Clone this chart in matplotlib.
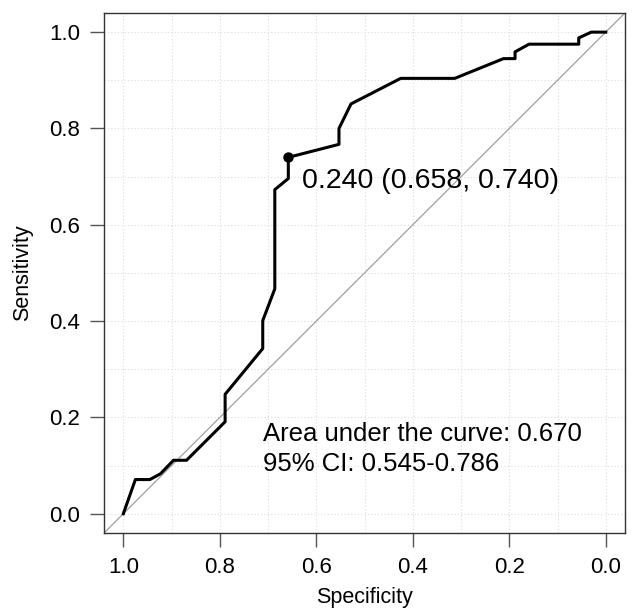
import numpy as np
import matplotlib
matplotlib.use('Agg')
import matplotlib.pyplot as plt

plt.rcParams['font.family'] = ['Liberation Sans', 'DejaVu Sans']

# ROC curve
spec = [1.0, 0.975, 0.945, 0.923, 0.896, 0.869, 0.789, 0.789, 0.711, 0.711,
        0.686, 0.686, 0.658, 0.658, 0.553, 0.553, 0.528, 0.425, 0.313, 0.212,
        0.188, 0.188, 0.159, 0.056, 0.056, 0.030, 0.0]
sens = [0.0, 0.071, 0.071, 0.083, 0.111, 0.111, 0.191, 0.248, 0.343, 0.401,
        0.467, 0.673, 0.696, 0.740, 0.767, 0.800, 0.851, 0.904, 0.904, 0.945,
        0.945, 0.959, 0.975, 0.975, 0.988, 1.0, 1.0]

thr_spec = 0.658
thr_sens = 0.740
thr_label = "0.240 (0.658, 0.740)"
auc_text = "Area under the curve: 0.670"
ci_text = "95% CI: 0.545-0.786"

ticks = [1.0, 0.8, 0.6, 0.4, 0.2, 0.0]
tick_labels = ["1.0", "0.8", "0.6", "0.4", "0.2", "0.0"]

fig = plt.figure(figsize=(6.32, 6.13), dpi=100)
ax = fig.add_axes([0.1646, 0.1305, 0.8244, 0.8485])

ax.set_xlim(1.04, -0.04)
ax.set_ylim(-0.04, 1.04)

# dotted grid every 0.1
for g in np.arange(0, 1.01, 0.1):
    ax.axvline(g, color='#dcdcdc', lw=0.8, ls=(0, (1, 2)), zorder=0)
    ax.axhline(g, color='#dcdcdc', lw=0.8, ls=(0, (1, 2)), zorder=0)

# identity line
ax.plot([1.04, -0.04], [-0.04, 1.04], color='#a0a0a0', lw=0.9, zorder=1)

ax.plot(spec, sens, color='black', lw=2.2, zorder=3)
ax.plot([thr_spec], [thr_sens], 'o', color='black', ms=6.5, zorder=4)

ax.text(0.630, 0.690, thr_label, fontsize=20.5, ha='left', va='center')
ax.text(0.711, 0.165, auc_text, fontsize=18.5, ha='left', va='center')
ax.text(0.711, 0.103, ci_text, fontsize=18.5, ha='left', va='center')

ax.set_xticks(ticks)
ax.set_xticklabels(tick_labels)
ax.set_yticks(ticks)
ax.set_yticklabels(tick_labels)
ax.tick_params(direction='out', length=10, width=1, color='#555555',
               labelsize=16, pad=7)

for s in ax.spines.values():
    s.set_color('#333333')
    s.set_linewidth(1)

ax.set_xlabel('Specificity', fontsize=15.5, labelpad=7)
ax.set_ylabel('Sensitivity', fontsize=15.5, labelpad=12)

fig.savefig('out.png', dpi=100)
